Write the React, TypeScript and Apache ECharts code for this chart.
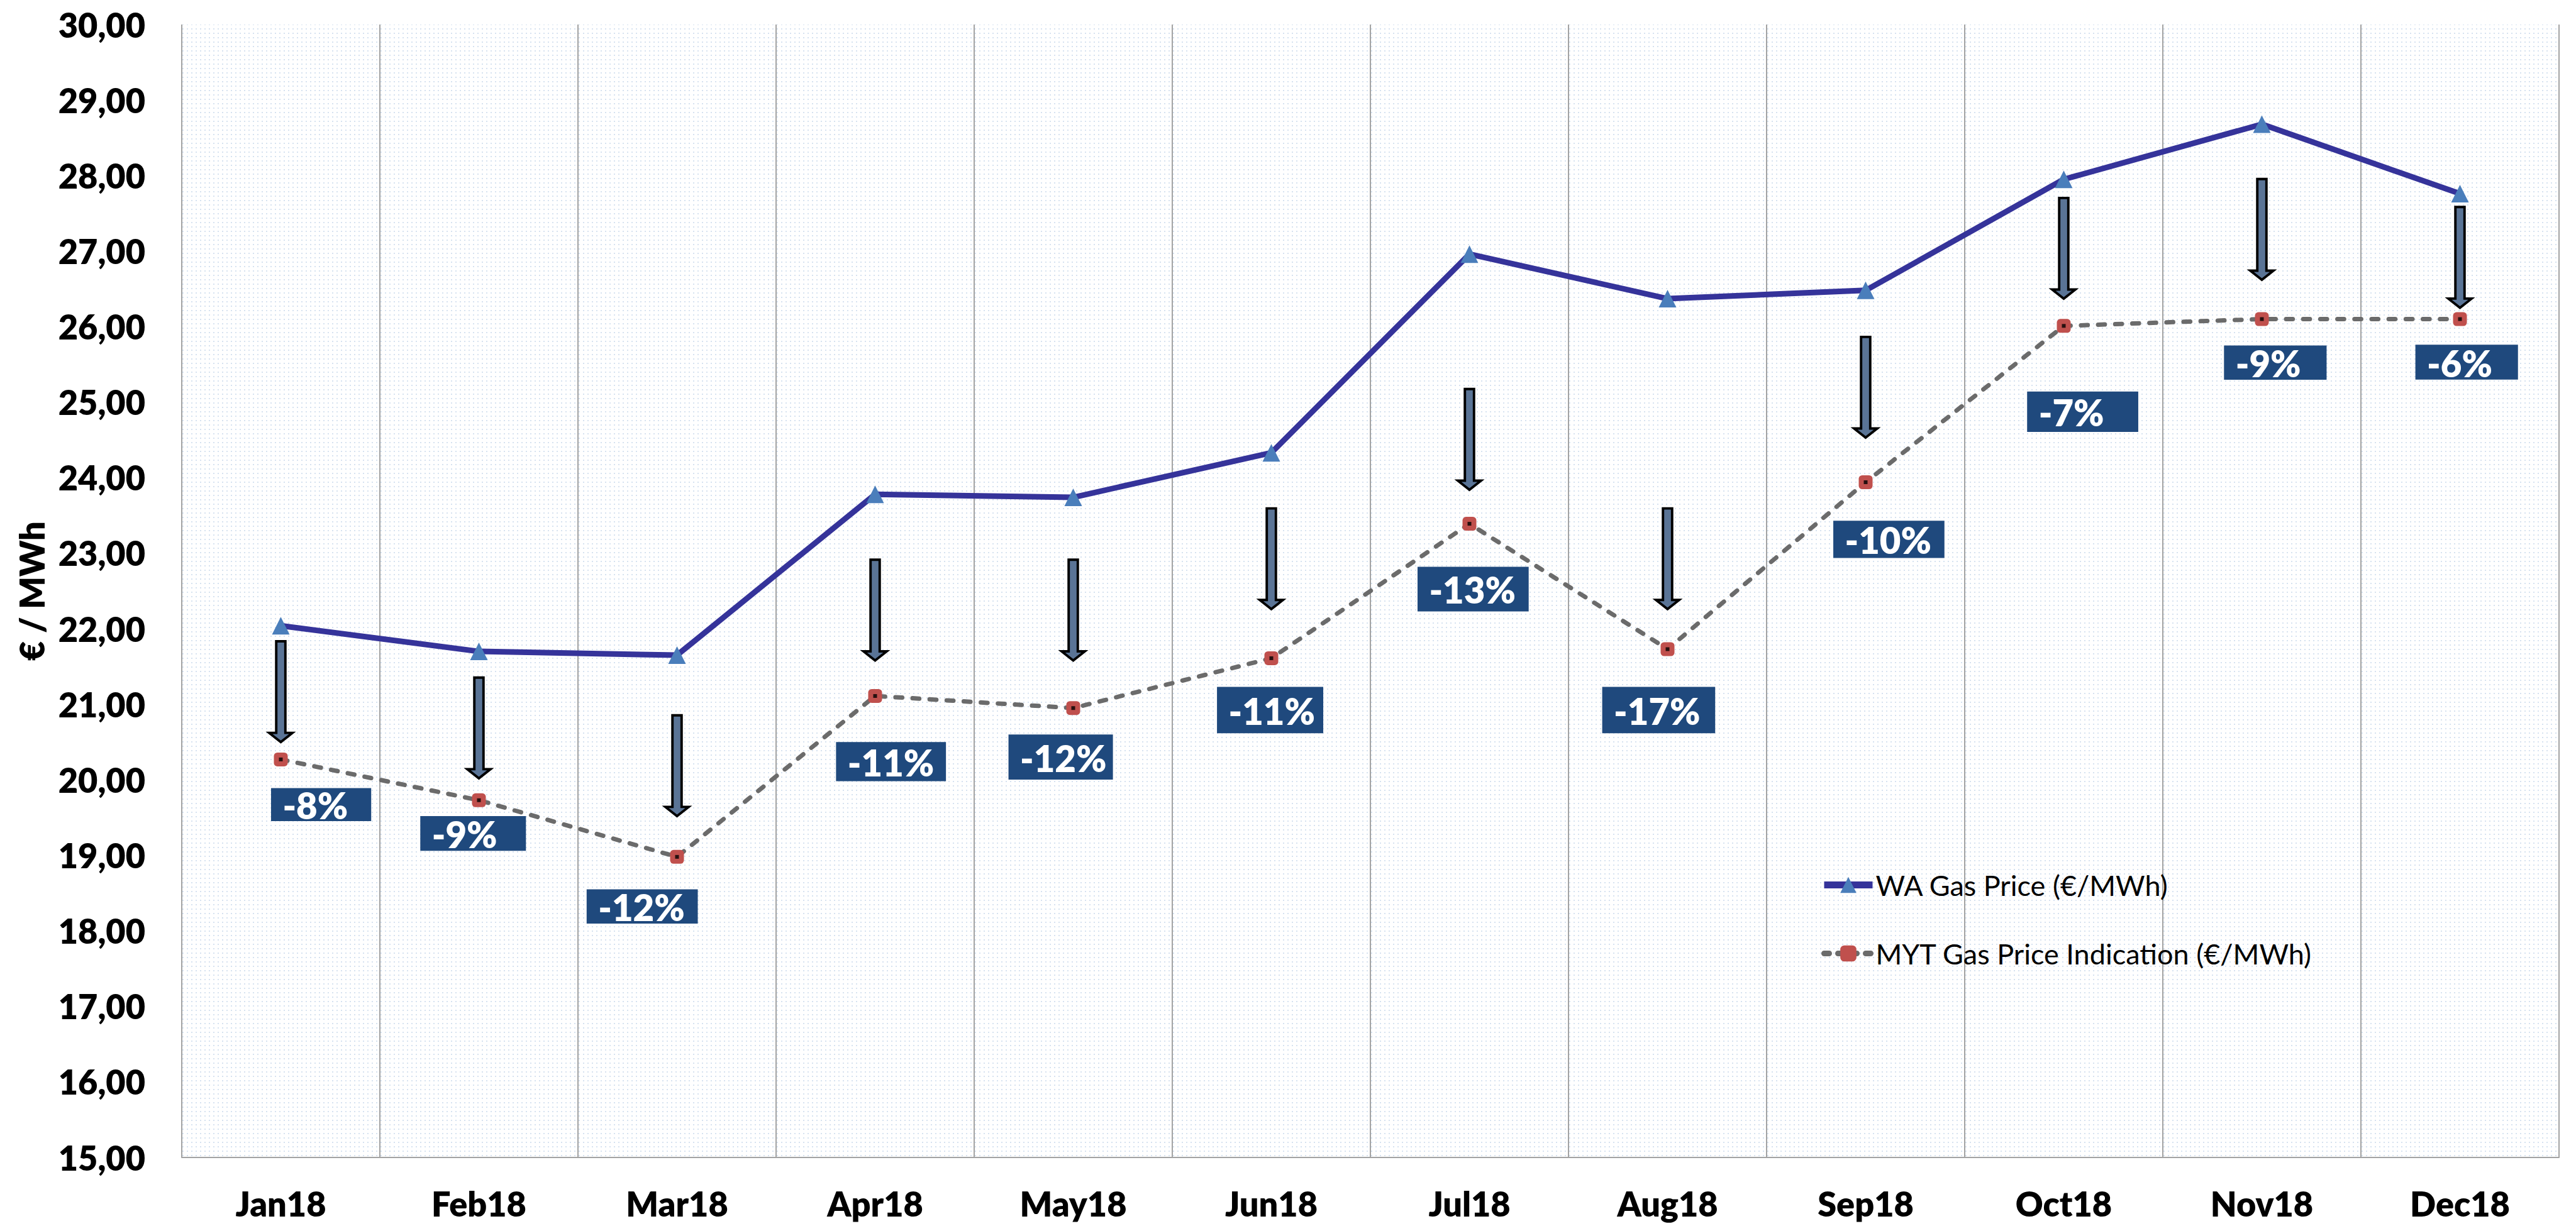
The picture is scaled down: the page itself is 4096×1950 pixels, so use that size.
import React, { useEffect, useRef } from 'react';
import * as echarts from 'echarts';

// ---------- data ----------
const categories = ['Jan18', 'Feb18', 'Mar18', 'Apr18', 'May18', 'Jun18', 'Jul18', 'Aug18', 'Sep18', 'Oct18', 'Nov18', 'Dec18'];
const waPrice = [22.04, 21.70, 21.65, 23.78, 23.74, 24.33, 26.96, 26.37, 26.48, 27.95, 28.68, 27.76];
const mytPrice = [20.27, 19.73, 18.98, 21.11, 20.95, 21.61, 23.39, 21.73, 23.94, 26.01, 26.10, 26.10];
const diffLabels = ['-8%', '-9%', '-12%', '-11%', '-12%', '-11%', '-13%', '-17%', '-10%', '-7%', '-9%', '-6%'];
const yMin = 15;
const yMax = 30;
const yStep = 1;
const seriesNames = ['WA Gas Price (€/MWh)', 'MYT Gas Price Indication (€/MWh)'];
const yTitle = '€ / MWh';

// ---------- annotation layout (values on the y scale, offsets in reference px) ----------
const arrowTop = [21.85, 21.37, 20.87, 22.93, 22.93, 23.61, 25.19, 23.61, 25.88, 27.72, 27.97, 27.60];
const labelTop = [19.89, 19.52, 18.55, 20.50, 20.60, 21.23, 22.82, 21.23, 23.43, 25.14, 25.75, 25.76];
const labelDx = [-16, -96, -148, -64, -106, -89, -85, -107, -53, -60, -62, -73];
const labelW = [164, 173, 182, 180, 171, 174, 182, 185, 182, 182, 168, 168];
const labelH = [54, 57, 56, 64, 74, 76, 73, 76, 61, 66, 56, 57];

const S = 0.971;
const FONT = 'Lato, "Open Sans", "Noto Sans", sans-serif';

function makePattern() {
  const c = document.createElement('canvas');
  c.width = 7;
  c.height = 7;
  const ctx = c.getContext('2d')!;
  ctx.fillStyle = '#ffffff';
  ctx.fillRect(0, 0, 7, 7);
  ctx.fillStyle = '#d6e2f0';
  ctx.fillRect(3, 3, 2, 2);
  return { image: c.toDataURL(), repeat: 'repeat', imageWidth: 7, imageHeight: 7 };
}

export default function App() {
  const ref = useRef<HTMLDivElement>(null);

  useEffect(() => {
    const el = ref.current!;
    const chart = echarts.init(el, null, { renderer: 'svg' });
    const gridColor = '#a3a3a3';

    const option: any = {
      animation: false,
      backgroundColor: '#ffffff',
      grid: {
        left: 289,
        right: 27,
        top: 39,
        bottom: 109,
        show: true,
        borderWidth: 0,
        backgroundColor: makePattern(),
      },
      legend: {
        orient: 'vertical',
        left: 2895,
        top: 1385,
        padding: 0,
        itemWidth: 77,
        itemHeight: 32,
        itemGap: 64,
        data: [
          { name: seriesNames[0], lineStyle: { width: 11, color: '#35339a' } },
          { name: seriesNames[1], lineStyle: { width: 9, color: '#6b6b6b', type: [8, 14], cap: 'round' } },
        ],
        textStyle: { fontFamily: FONT, fontSize: 45, color: '#000', lineHeight: 32 },
      },
      xAxis: {
        type: 'category',
        data: categories,
        boundaryGap: true,
        axisLine: { show: true, lineStyle: { color: gridColor, width: 2 } },
        axisTick: { show: false },
        axisLabel: {
          fontFamily: FONT,
          fontSize: 54,
          fontWeight: 800,
          color: '#000',
          margin: 48,
          lineHeight: 50,
        },
        splitLine: { show: true, lineStyle: { color: gridColor, width: 2 } },
      },
      yAxis: {
        type: 'value',
        min: yMin,
        max: yMax,
        interval: yStep,
        axisLine: { show: false },
        axisTick: { show: false },
        splitLine: { show: false },
        axisLabel: {
          fontFamily: FONT,
          fontSize: 54,
          fontWeight: 800,
          color: '#000',
          margin: 58,
          formatter: (v: number) => v.toFixed(2).replace('.', ','),
        },
      },
      series: [
        {
          name: seriesNames[0],
          type: 'line',
          data: waPrice,
          symbol: 'triangle',
          symbolSize: 28,
          itemStyle: { color: '#4a7ebb' },
          lineStyle: { color: '#35339a', width: 9 },
          z: 4,
        },
        {
          name: seriesNames[1],
          type: 'line',
          data: mytPrice,
          symbol: 'roundRect',
          symbolSize: 22,
          itemStyle: { color: '#c0504d' },
          lineStyle: { color: '#6b6b6b', width: 7, type: [11 * S, 17 * S], cap: 'round' },
          z: 3,
        },
        {
          name: 'mytDot',
          type: 'scatter',
          data: mytPrice,
          symbol: 'rect',
          symbolSize: 6,
          itemStyle: { color: '#000000' },
          silent: true,
          z: 5,
        },
      ],
    };
    chart.setOption(option);

    const graphics: any[] = [];
    const plotTop = chart.convertToPixel({ gridIndex: 0 }, [0, yMax]) as number[];
    const plotBottom = chart.convertToPixel({ gridIndex: 0 }, [0, yMin]) as number[];
    graphics.push({
      type: 'text',
      x: 50,
      y: (plotTop[1] + plotBottom[1]) / 2,
      rotation: Math.PI / 2,
      style: {
        text: yTitle,
        fontFamily: FONT,
        fontSize: 54,
        fontWeight: 800,
        fill: '#000',
        textAlign: 'center',
        textVerticalAlign: 'middle',
      },
    });

    const arrowPts = [
      [-7.5, 2], [7.5, 2], [7.5, 152], [19, 152], [0, 167], [-19, 152], [-7.5, 152],
    ].map(([a, b]) => [a * S, b * S]);

    categories.forEach((_, i) => {
      const pTop = chart.convertToPixel({ gridIndex: 0 }, [i, arrowTop[i]]) as number[];
      graphics.push({
        type: 'polygon',
        x: pTop[0],
        y: pTop[1],
        z: 10,
        shape: { points: arrowPts },
        style: { fill: '#5a7496', stroke: '#000', lineWidth: 4 * S, lineJoin: 'miter' },
      });
      const pLab = chart.convertToPixel({ gridIndex: 0 }, [i, labelTop[i]]) as number[];
      const left = pLab[0] + labelDx[i] * S;
      const w = labelW[i] * S;
      const h = labelH[i] * S;
      graphics.push({
        type: 'group',
        x: left,
        y: pLab[1],
        z: 10,
        children: [
          { type: 'rect', shape: { x: 0, y: 0, width: w, height: h }, style: { fill: '#1f497d' }, z: 10 },
          {
            type: 'text',
            x: 19 * S,
            y: h / 2 + 1,
            z: 11,
            style: {
              text: diffLabels[i],
              fontFamily: FONT,
              fontSize: 58,
              fontWeight: 800,
              fill: '#ffffff',
              textAlign: 'left',
              textVerticalAlign: 'middle',
            },
          },
        ],
      });
    });

    chart.setOption({ graphic: graphics });

    return () => {
      chart.dispose();
    };
  }, []);

  return (
    <div
      ref={ref}
      style={{ position: 'fixed', left: 0, top: 0, width: 4096, height: 1950, background: '#fff' }}
    />
  );
}
